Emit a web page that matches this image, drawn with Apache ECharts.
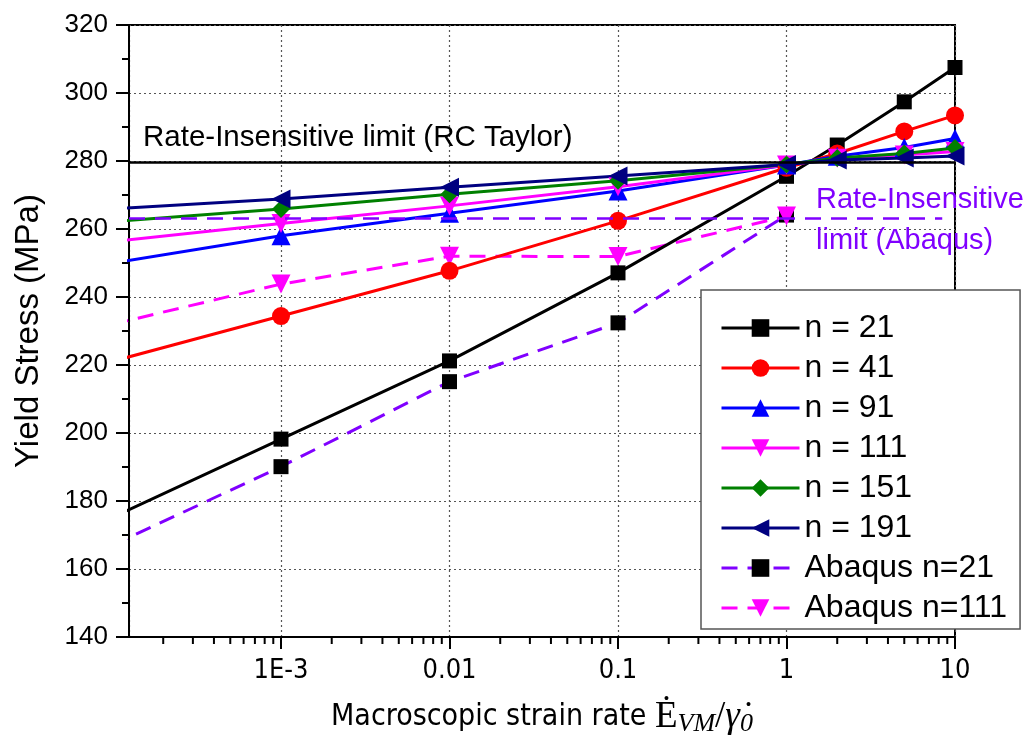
<!DOCTYPE html>
<html><head><meta charset="utf-8">
<script src="https://cdn.jsdelivr.net/npm/echarts@6/dist/echarts.min.js"></script>
<style>html,body{margin:0;padding:0;background:#fff}#c{width:1031px;height:740px}</style>
</head><body><div id="c"></div>
<script>
// ---- data ----
const strainRates = [1e-4, 1e-3, 0.01, 0.1, 1, 2, 5, 10];
const n21  = [175.2, 198.2, 221.2, 247.1, 275.5, 284.7, 297.4, 307.5];
const n41  = [221.1, 234.4, 247.7, 262.4, 278.0, 282.2, 288.7, 293.4];
const n91  = [250.0, 258.0, 264.6, 271.2, 278.8, 281.4, 284.0, 286.6];
const n111 = [256.3, 261.6, 266.8, 272.4, 278.8, 280.8, 281.8, 282.8];
const n151 = [262.2, 265.9, 270.2, 274.2, 279.0, 280.9, 282.2, 283.8];
const n191 = [265.9, 268.8, 272.3, 275.6, 279.0, 280.3, 280.9, 281.5];
const abaqusRates = [1e-4, 1e-3, 0.01, 0.1, 1];
const abaqusN21  = [167.0, 190.1, 215.1, 232.4, 264.1];
const abaqusN111 = [232.0, 243.8, 252.0, 251.9, 263.8];
const taylorLimit = 279.5;
const abaqusLimit = 263.3;
const abaqusLimitEnd = 8.4;
const xMin = 1.253e-4, xMax = 10;
const yMin = 140, yMax = 320, yStep = 20;
const xTickLabels = {'0.001': '1E-3', '0.01': '0.01', '0.1': '0.1', '1': '1', '10': '10'};
const minorTickRates = [2e-4,3e-4,4e-4,5e-4,6e-4,7e-4,8e-4,9e-4,
  2e-3,3e-3,4e-3,5e-3,6e-3,7e-3,8e-3,9e-3,
  0.02,0.03,0.04,0.05,0.06,0.07,0.08,0.09,
  0.2,0.3,0.4,0.5,0.6,0.7,0.8,0.9,
  2,3,4,5,6,7,8,9];
const seriesNames = ['n = 21','n = 41','n = 91','n = 111','n = 151','n = 191','Abaqus n=21','Abaqus n=111'];

// ---- chart ----
const SANS = "'Liberation Sans', Arial, sans-serif";
const NARROW = "'Liberation Sans Narrow', 'DejaVu Sans Condensed', 'Liberation Sans', sans-serif";
const SERIF = "'Liberation Serif', 'DejaVu Serif', serif";
const pair = (xs, ys) => xs.map((x, i) => [x, ys[i]]);

function lineSeries(name, ys, color, symbol, size, rotate) {
  return {
    name, type: 'line', data: pair(strainRates, ys),
    symbol, symbolSize: size, symbolRotate: rotate || 0,
    lineStyle: {color, width: 3},
    itemStyle: {color},
    clip: true, animation: false
  };
}

const chart = echarts.init(document.getElementById('c'), null, {renderer: 'canvas'});
chart.setOption({
  backgroundColor: '#fff',
  animation: false,
  grid: {left: 129, right: 76, top: 25, bottom: 103, outerBoundsMode: 'none', containLabel: false,
         show: true, borderColor: '#000', borderWidth: 2, backgroundColor: 'transparent'},
  xAxis: {
    type: 'log', logBase: 10, min: xMin, max: xMax,
    axisLine: {show: true, lineStyle: {color: '#000', width: 2}},
    axisTick: {show: true, length: 12, lineStyle: {color: '#000', width: 2}},
    splitLine: {show: true, lineStyle: {color: '#555', width: 1.2, type: [2, 3]}},
    axisLabel: {
      showMinLabel: false, margin: 20, color: '#000', fontSize: 27, fontFamily: NARROW,
      formatter: v => {
        const k = String(+(+v).toPrecision(6));
        return xTickLabels[k] !== undefined ? xTickLabels[k] : '';
      }
    },
    name: '{t|Macroscopic strain rate }{m|Ė}{s|VM}{m|/}{g|γ̇}{s|0}',
    nameLocation: 'middle', nameGap: 60,
    nameTextStyle: {
      color: '#000',
      rich: {
        t: {fontSize: 30, fontFamily: NARROW, color: '#000', lineHeight: 40},
        m: {fontSize: 37, fontFamily: SERIF, color: '#000', lineHeight: 40},
        g: {fontSize: 37, fontFamily: SERIF, fontStyle: 'italic', color: '#000', lineHeight: 40},
        s: {fontSize: 26, fontFamily: SERIF, fontStyle: 'italic', color: '#000', lineHeight: 24, verticalAlign: 'bottom'}
      }
    }
  },
  yAxis: {
    type: 'value', min: yMin, max: yMax, interval: yStep,
    axisLine: {show: true, lineStyle: {color: '#000', width: 2}},
    axisTick: {show: true, length: 13, lineStyle: {color: '#000', width: 2}},
    minorTick: {show: true, splitNumber: 2, length: 7, lineStyle: {color: '#000', width: 2}},
    splitLine: {show: true, lineStyle: {color: '#555', width: 1.2, type: [2, 3]}},
    axisLabel: {margin: 21, color: '#000', fontSize: 26, fontFamily: SANS},
    name: 'Yield Stress (MPa)', nameLocation: 'middle', nameGap: 84,
    nameTextStyle: {color: '#000', fontSize: 33, fontFamily: SANS}
  },
  legend: {
    data: seriesNames,
    orient: 'vertical', left: 701, top: 290,
    padding: [22, 13, 5, 19],
    itemWidth: 78, itemHeight: 22, itemGap: 8,
    backgroundColor: '#fff', borderColor: '#555', borderWidth: 1.5,
    lineStyle: {width: 3},
    textStyle: {color: '#000', fontSize: 32, fontFamily: SANS, lineHeight: 32},
    selectedMode: false
  },
  graphic: [
    {type: 'text', left: 143, top: 123, z: 100,
     style: {text: 'Rate-Insensitive limit (RC Taylor)', fill: '#000', font: "29.5px 'Liberation Sans', Arial, sans-serif"}},
    {type: 'text', left: 816, top: 179, z: 100,
     style: {text: 'Rate-Insensitive\nlimit (Abaqus)', fill: '#8000ff', fontSize: 29, fontFamily: SANS, lineHeight: 41}}
  ],
  series: [
    {
      name: 'limits', type: 'line', data: [], silent: true,
      markLine: {
        silent: true, symbol: 'none', animation: false, label: {show: false},
        data: [
          {yAxis: taylorLimit, lineStyle: {color: '#000', width: 2.5, type: 'solid'}},
          [{coord: [xMin, abaqusLimit], lineStyle: {color: '#8000ff', width: 2.5, type: [16, 10]}},
           {coord: [abaqusLimitEnd, abaqusLimit]}]
        ]
      }
    },
    {
      name: 'Abaqus n=21', type: 'line', data: pair(abaqusRates, abaqusN21),
      symbol: 'rect', symbolSize: 15,
      lineStyle: {color: '#8000ff', width: 3, type: [16, 10]},
      itemStyle: {color: '#000'}, clip: true
    },
    {
      name: 'Abaqus n=111', type: 'line', data: pair(abaqusRates, abaqusN111),
      symbol: 'triangle', symbolSize: 19, symbolRotate: 180,
      lineStyle: {color: '#ff00ff', width: 3, type: [16, 10]},
      itemStyle: {color: '#ff00ff'}, clip: true
    },
    lineSeries('n = 21', n21, '#000000', 'rect', 15),
    lineSeries('n = 41', n41, '#ff0000', 'circle', 18),
    lineSeries('n = 91', n91, '#0000ff', 'triangle', 19),
    lineSeries('n = 111', n111, '#ff00ff', 'triangle', 19, 180),
    lineSeries('n = 151', n151, '#008000', 'diamond', 18),
    lineSeries('n = 191', n191, '#000080', 'triangle', 19, 90),
    {
      name: 'minorTicks', type: 'custom', silent: true, clip: false, z: 5,
      data: minorTickRates.map(v => [v, yMin]),
      renderItem: (params, api) => {
        const p = api.coord([api.value(0), api.value(1)]);
        return {type: 'line', shape: {x1: p[0], y1: p[1], x2: p[0], y2: p[1] + 7},
                style: {stroke: '#000', lineWidth: 2}};
      }
    }
  ]
});
</script>
</body></html>
